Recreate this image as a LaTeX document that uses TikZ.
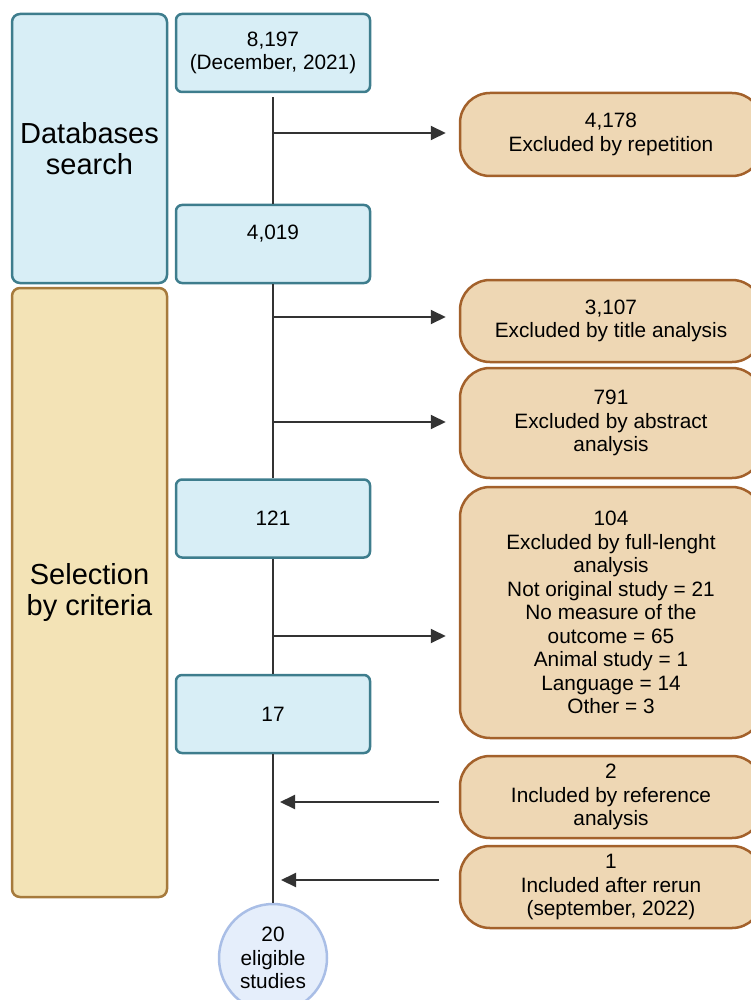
\documentclass[tikz,border=0pt]{standalone}
\usepackage{fontspec}
\setmainfont{Liberation Sans}
\usetikzlibrary{arrows.meta}
\definecolor{bluefill}{HTML}{D8EEF6}
\definecolor{blueline}{HTML}{3E7D8D}
\definecolor{tanfill}{HTML}{EED7B4}
\definecolor{tanline}{HTML}{A3612B}
\definecolor{selfill}{HTML}{F3E3B6}
\definecolor{selline}{HTML}{A67A3C}
\definecolor{circfill}{HTML}{E5EEFB}
\definecolor{circline}{HTML}{A9BEE6}
\definecolor{conn}{HTML}{333333}
\begin{document}
\begin{tikzpicture}[x=1pt,y=-1pt,
  every node/.style={font=\fontsize{20.8}{23.5}\selectfont, align=center, inner sep=0pt},
  bluebox/.style={draw=blueline, fill=bluefill, line width=2.5pt, rounded corners=6pt, minimum width=194pt, minimum height=78pt},
  sidebox/.style={line width=2.5pt, rounded corners=8pt, minimum width=155pt, font=\fontsize{29}{31}\selectfont},
  tanbox/.style={draw=tanline, fill=tanfill, line width=2.5pt, rounded corners=30pt, minimum width=302pt},
  conline/.style={draw=conn, line width=2pt},
  arr/.style={conline, -{Triangle[length=15pt,width=14pt]}}
]
\useasboundingbox (0,0) rectangle (751,1000);

% side boxes
\node[sidebox, draw=blueline, fill=bluefill, minimum height=269pt] (db) at (89.5,148.5) {Databases\\search};
\node[sidebox, draw=selline, fill=selfill, minimum height=609pt] (sel) at (89.5,592.5) {Selection\\by criteria};

% main column
\node[bluebox] (n1) at (273,53) {8,197\\(December, 2021)};
\node[bluebox, text depth=24pt] (n2) at (273,244) {4,019};
\node[bluebox] (n3) at (273,518.5) {121};
\node[bluebox] (n4) at (273,714) {17};
\node[circle, draw=circline, fill=circfill, line width=2.5pt, minimum size=108pt] (fin) at (273,958) {20\\eligible\\studies};

% right boxes
\node[tanbox, minimum height=83pt] (e1) at (611,134.5) {4,178\\Excluded by repetition};
\node[tanbox, minimum height=82pt] (e2) at (611,321) {3,107\\Excluded by title analysis};
\node[tanbox, minimum height=110pt] (e3) at (611,423) {791\\Excluded by abstract\\analysis};
\node[tanbox, minimum height=251pt] (e4) at (611,612.5) {104\\Excluded by full-lenght\\analysis\\Not original study = 21\\No measure of the\\outcome = 65\\Animal study = 1\\Language = 14\\Other = 3};
\node[tanbox, minimum height=82pt] (e5) at (611,797) {2\\Included by reference\\analysis};
\node[tanbox, minimum height=82pt] (e6) at (611,887) {1\\Included after rerun\\(september, 2022)};

% vertical flow
\draw[conline, shorten <=4pt] (n1.south) -- (n2.north);
\draw[conline] (n2.south) -- (n3.north);
\draw[conline] (n3.south) -- (n4.north);
\draw[conline] (n4.south) -- (fin.north);

% branch points
\coordinate (b1) at (273,133);
\coordinate (b2) at (273,317);
\coordinate (b3) at (273,422);
\coordinate (b4) at (273,636);
\coordinate (b5) at (273,802);
\coordinate (b6) at (273,880);

\draw[arr, shorten >=13pt] (b1) -- (b1 -| e1.west);
\draw[arr, shorten >=13pt] (b2) -- (b2 -| e2.west);
\draw[arr, shorten >=13pt] (b3) -- (b3 -| e3.west);
\draw[arr, shorten >=13pt] (b4) -- (b4 -| e4.west);
\draw[arr, shorten <=20pt, shorten >=7pt] (b5 -| e5.west) -- (b5);
\draw[arr, shorten <=20pt, shorten >=8pt] (b6 -| e6.west) -- (b6);
\end{tikzpicture}
\end{document}
